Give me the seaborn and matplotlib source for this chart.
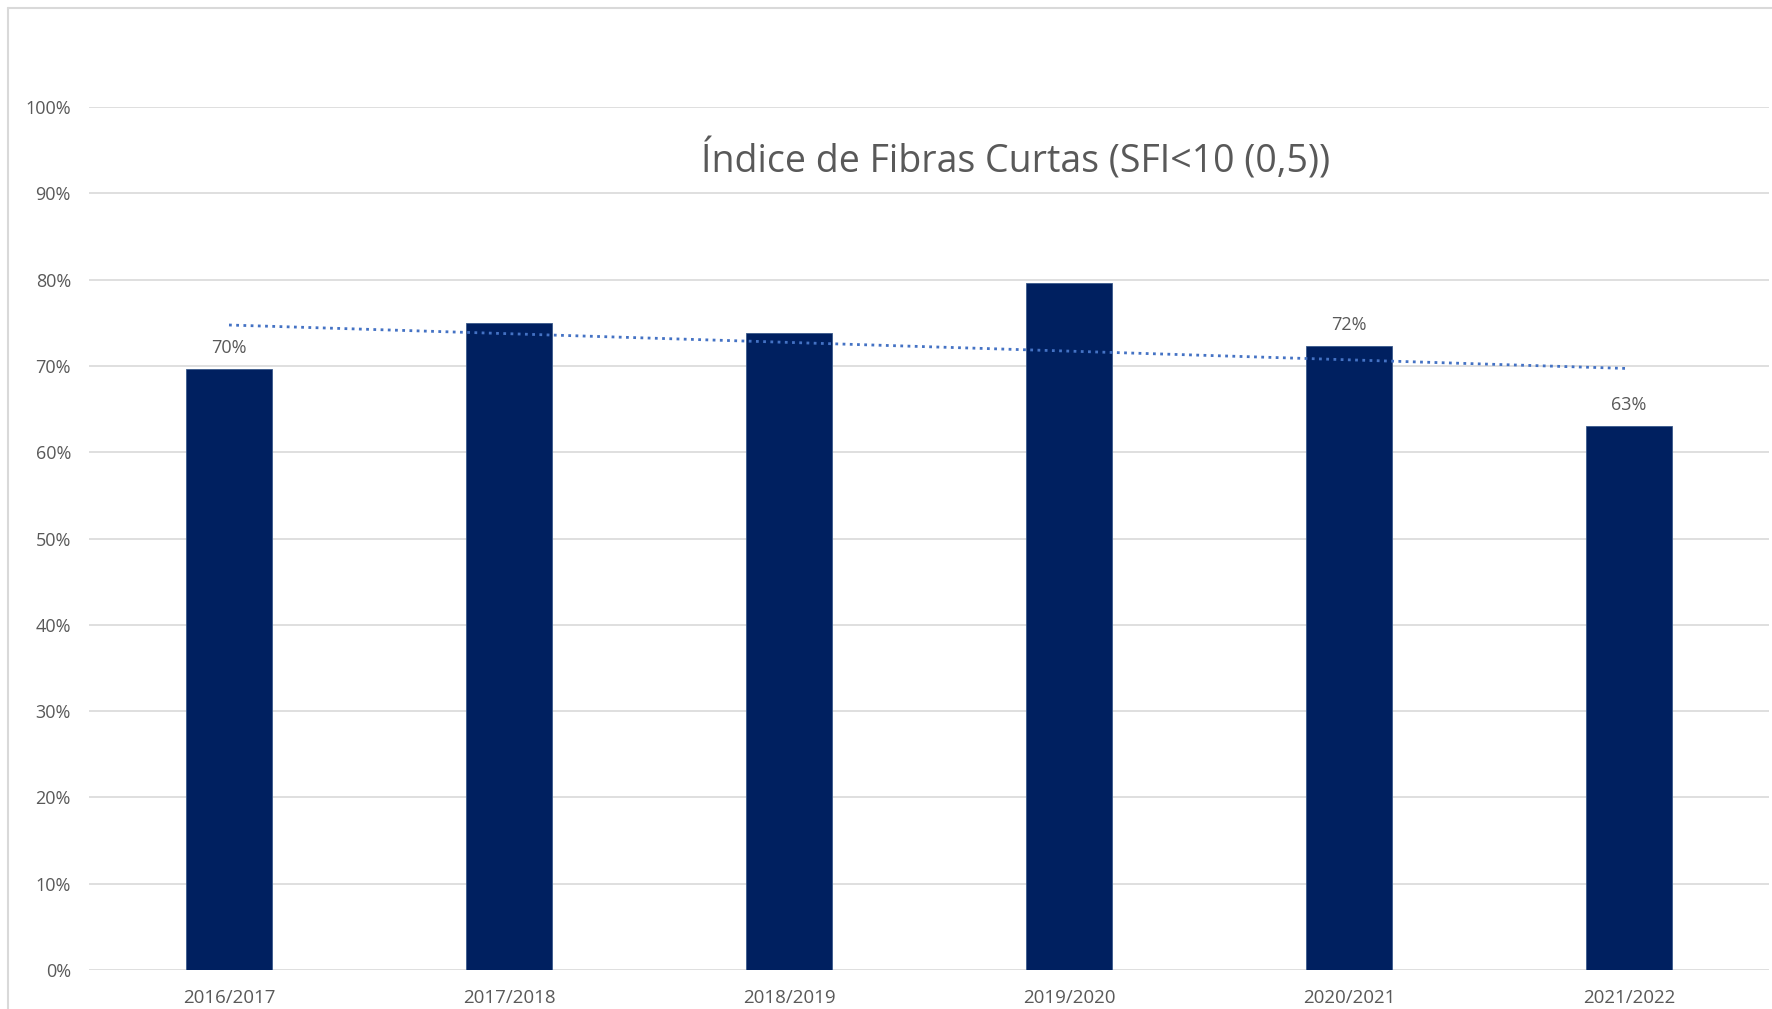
import numpy as np
import pandas as pd
import matplotlib
matplotlib.use("Agg")
import matplotlib.pyplot as plt
from matplotlib.lines import Line2D
from matplotlib.ticker import PercentFormatter
import seaborn as sns

# values
safras = ["2016/2017", "2017/2018", "2018/2019", "2019/2020", "2020/2021", "2021/2022"]
sfi = [0.696, 0.750, 0.738, 0.796, 0.723, 0.630]
rotulos = ["70%", "", "", "", "72%", "63%"]
titulo = "Índice de Fibras Curtas (SFI<10 (0,5))"

W, H, DPI = 1772, 1009, 100
cinza = "#595959"
azul_barra = "#002060"
azul_tendencia = "#4472C4"

sns.set_theme(style="white")
plt.rcParams["font.family"] = ["Open Sans", "DejaVu Sans"]

df = pd.DataFrame({"safra": safras, "sfi": sfi})

fig = plt.figure(figsize=(W / DPI, H / DPI), dpi=DPI)
# axes placed in pixel terms: x 89..1769, 0% at y=970, 100% at y=107
ax = fig.add_axes([89 / W, (H - 970) / H, (1769 - 89) / W, (970 - 107) / H])

sns.barplot(data=df, x="safra", y="sfi", color=azul_barra, saturation=1,
            width=0.31, ax=ax, zorder=3)
for p in ax.patches:
    p.set_edgecolor("#3a5a8c")
    p.set_linewidth(0.6)

# linear trendline
x = np.arange(len(sfi))
coef = np.polyfit(x, sfi, 1)
ax.plot(x, np.polyval(coef, x), linestyle=(0, (1, 1.6)), color=azul_tendencia,
        linewidth=2.0, zorder=4)

# data labels
for i, (v, lab) in enumerate(zip(sfi, rotulos)):
    if lab:
        ax.annotate(lab, (i, v), xytext=(0, 9), textcoords="offset points",
                    ha="center", va="bottom", fontsize=13, color=cinza)

ax.set_xlim(-0.5, len(sfi) - 0.5)
ax.set_ylim(0, 1.0)
ax.set_yticks(np.arange(0, 1.01, 0.1))
ax.yaxis.set_major_formatter(PercentFormatter(1.0, decimals=0))
ax.grid(axis="y", color="#d9d9d9", linewidth=1.2, zorder=0)
ax.set_axisbelow(True)
for s in ax.spines.values():
    s.set_visible(False)
ax.tick_params(axis="y", length=0, pad=13, labelsize=13, labelcolor=cinza)
ax.tick_params(axis="x", length=0, pad=14, labelsize=13.5, labelcolor=cinza)
ax.set_xlabel("")
ax.set_ylabel("")

fig.text(1016 / W, 1 - 160 / H, titulo, ha="center", va="center",
         fontsize=27, color=cinza)

# chart area border (left and top visible in the reference)
fig.add_artist(Line2D([8 / W, 8 / W], [0, 1 - 8 / H], transform=fig.transFigure,
                      color="#d9d9d9", linewidth=1.5))
fig.add_artist(Line2D([8 / W, 1], [1 - 8 / H, 1 - 8 / H], transform=fig.transFigure,
                      color="#d9d9d9", linewidth=1.5))

fig.savefig("out.png", dpi=DPI)
